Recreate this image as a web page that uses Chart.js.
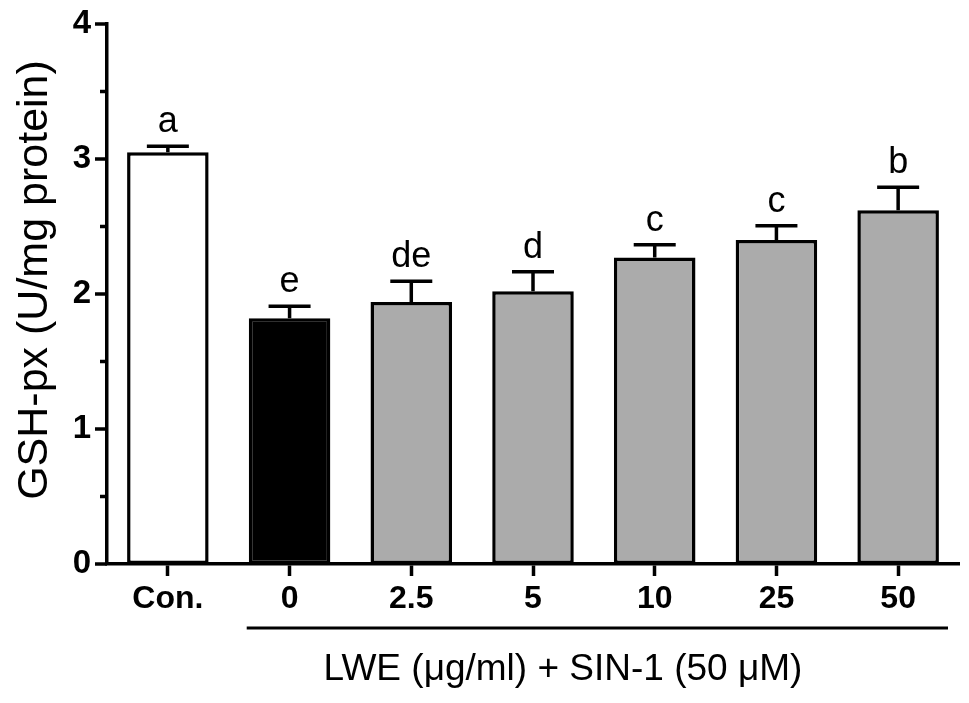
<!DOCTYPE html>
<html>
<head>
<meta charset="utf-8">
<script src="https://cdn.jsdelivr.net/npm/chart.js@4.4.0/dist/chart.umd.min.js"></script>
<style>
  html, body { margin: 0; padding: 0; background: #fff; }
  #wrap { width: 969px; height: 703px; }
</style>
</head>
<body>
<div id="wrap"><canvas id="myChart" width="969" height="703"></canvas></div>
<script>
// values
var groups = ['Con.', '0', '2.5', '5', '10', '25', '50'];
var means = [3.05, 1.82, 1.94, 2.02, 2.27, 2.40, 2.62];
var errs = [0.045, 0.09, 0.155, 0.145, 0.095, 0.105, 0.17];
var letters = ['a', 'e', 'de', 'd', 'c', 'c', 'b'];
var fills = ['#ffffff', '#000000', '#ababab', '#ababab', '#ababab', '#ababab', '#ababab'];
var yTicks = [0, 1, 2, 3, 4];
var yTitle = 'GSH-px (U/mg protein)';
var xTitle = 'LWE (\u03bcg/ml) + SIN-1 (50 \u03bcM)';

var FONT = '"Liberation Sans", Arial, sans-serif';

// error bars, letters, minor ticks, axis titles and the underline
var extras = {
    id: 'extras',
    afterDatasetsDraw: function (chart) {
        var ctx = chart.ctx;
        var x = chart.scales.x, y = chart.scales.y;
        var area = chart.chartArea;
        var meta = chart.getDatasetMeta(0);
        ctx.save();
        ctx.strokeStyle = '#000';
        ctx.fillStyle = '#000';
        ctx.lineWidth = 3.5;
        meta.data.forEach(function (bar, i) {
            var top = y.getPixelForValue(means[i]);
            var cap = y.getPixelForValue(means[i] + errs[i]);
            ctx.beginPath();
            ctx.moveTo(bar.x, top);
            ctx.lineTo(bar.x, cap);
            ctx.moveTo(bar.x - 21, cap);
            ctx.lineTo(bar.x + 21, cap);
            ctx.stroke();
            ctx.font = '36px ' + FONT;
            ctx.textAlign = 'center';
            ctx.textBaseline = 'alphabetic';
            ctx.fillText(letters[i], bar.x, cap - 14);
        });
        // y tick marks, long at integers and short at halves
        y.ticks.forEach(function (t) {
            var py = y.getPixelForValue(t.value);
            var len = Number.isInteger(t.value) ? 12 : 7;
            ctx.beginPath();
            ctx.moveTo(area.left - len, py);
            ctx.lineTo(area.left, py);
            ctx.stroke();
        });
        // line under the treatment groups
        var half = (x.getPixelForValue(1) - x.getPixelForValue(0)) / 2;
        ctx.lineWidth = 3;
        ctx.beginPath();
        ctx.moveTo(x.getPixelForValue(1) - half + 18, 628);
        ctx.lineTo(x.getPixelForValue(groups.length - 1) + half - 11, 628);
        ctx.stroke();
        // axis titles
        ctx.font = '37px ' + FONT;
        ctx.textAlign = 'center';
        ctx.textBaseline = 'alphabetic';
        ctx.fillText(xTitle, 563, 680);
        ctx.translate(47, 280);
        ctx.rotate(-Math.PI / 2);
        ctx.font = '43px ' + FONT;
        ctx.fillText(yTitle, 0, 0);
        ctx.restore();
    }
};

new Chart(document.getElementById('myChart'), {
    type: 'bar',
    data: {
        labels: groups,
        datasets: [{
            data: means,
            backgroundColor: fills,
            borderColor: '#000',
            borderWidth: 3.5,
            borderSkipped: false,
            barPercentage: 0.67,
            categoryPercentage: 1
        }]
    },
    options: {
        responsive: false,
        animation: false,
        devicePixelRatio: 1,
        layout: { padding: { top: 24, right: 10, left: 0, bottom: 0 } },
        plugins: {
            legend: { display: false },
            tooltip: { enabled: false }
        },
        scales: {
            x: {
                offset: true,
                afterFit: function (s) { s.height = 139; },
                border: { display: true, width: 3.5, color: '#000' },
                grid: {
                    display: true, offset: false, drawOnChartArea: false,
                    drawTicks: true, tickLength: 12, tickWidth: 3.5, tickColor: '#000'
                },
                ticks: {
                    color: '#000', padding: 4,
                    font: { family: FONT, size: 32, weight: 'bold' }
                }
            },
            y: {
                min: 0,
                max: 4,
                afterFit: function (s) {
                    s.width = 107;
                    s.paddingTop = 0;
                    s.paddingBottom = 0;
                },
                border: { display: true, width: 3.5, color: '#000' },
                grid: { display: false, drawTicks: false },
                ticks: {
                    stepSize: 0.5,
                    autoSkip: false,
                    color: '#000',
                    padding: 16,
                    font: { family: FONT, size: 33, weight: 'bold' },
                    callback: function (v) { return yTicks.indexOf(v) >= 0 ? v : ''; }
                }
            }
        }
    },
    plugins: [extras]
});
</script>
</body>
</html>
